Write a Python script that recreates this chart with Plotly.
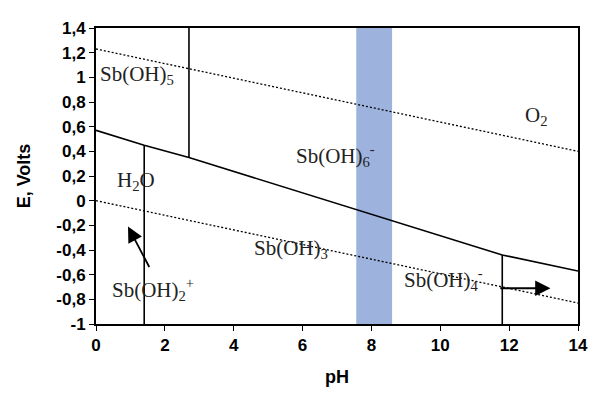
import plotly.graph_objects as go

# Data
ph_range = [0, 14]
e_o2 = [1.23, 0.40]
e_h2 = [0.00, -0.83]
ph_sb = [0, 1.4, 2.7, 11.8, 14]
e_sb = [0.57, 0.45, 0.35, -0.44, -0.57]
vert_ph = [1.4, 2.7, 11.8]
vert_top = [0.45, 1.4, -0.44]
vert_bot = [-1.0, 0.35, -1.0]
band_ph = [7.56, 8.6]

x_tickvals = [0, 2, 4, 6, 8, 10, 12, 14]
y_tickvals = [1.4, 1.2, 1.0, 0.8, 0.6, 0.4, 0.2, 0.0, -0.2, -0.4, -0.6, -0.8, -1.0]
y_ticktext = ["1,4", "1,2", "1", "0,8", "0,6", "0,4", "0,2", "0", "-0,2", "-0,4", "-0,6", "-0,8", "-1"]

labels = ["Sb(OH)<sub>5</sub>", "H<sub>2</sub>O", "Sb(OH)<sub>6</sub><sup>-</sup>", "O<sub>2</sub>",
          "Sb(OH)<sub>3</sub>", "Sb(OH)<sub>2</sub><sup>+</sup>", "Sb(OH)<sub>4</sub><sup>-</sup>"]
label_ph = [1.2, 1.15, 6.95, 12.8, 5.65, 1.65, 10.1]
label_e = [1.02, 0.16, 0.37, 0.69, -0.39, -0.72, -0.64]

arrow_tail_ph = [1.57, 11.7]
arrow_tail_e = [-0.55, -0.71]
arrow_head_ph = [0.93, 13.2]
arrow_head_e = [-0.21, -0.71]

fig = go.Figure()

fig.add_shape(type="rect", xref="x", yref="y", x0=band_ph[0], x1=band_ph[1], y0=-1, y1=1.4,
              fillcolor="rgb(157,179,222)", line=dict(width=0), layer="below")

fig.add_trace(go.Scatter(x=ph_range, y=e_o2, mode="lines",
                         line=dict(color="black", width=1.3, dash="2px,2px")))
fig.add_trace(go.Scatter(x=ph_range, y=e_h2, mode="lines",
                         line=dict(color="black", width=1.3, dash="2px,2px")))
fig.add_trace(go.Scatter(x=ph_sb, y=e_sb, mode="lines", line=dict(color="black", width=1.6)))
for p, t, b in zip(vert_ph, vert_top, vert_bot):
    fig.add_trace(go.Scatter(x=[p, p], y=[t, b], mode="lines", line=dict(color="black", width=1.6)))

for txt, x, y in zip(labels, label_ph, label_e):
    fig.add_annotation(x=x, y=y, text=txt, showarrow=False,
                       font=dict(family="Liberation Serif", size=21, color="#222"))

for tx, ty, hx, hy in zip(arrow_tail_ph, arrow_tail_e, arrow_head_ph, arrow_head_e):
    fig.add_annotation(x=hx, y=hy, ax=tx, ay=ty, xref="x", yref="y", axref="x", ayref="y",
                       text="", showarrow=True, arrowhead=2, arrowsize=1.7, arrowwidth=1.8,
                       arrowcolor="black")

axis_font = dict(family="Liberation Sans", size=17, color="black", weight="bold")
title_font = dict(family="Liberation Sans", size=18, color="black", weight="bold")
fig.update_layout(
    width=607, height=391,
    margin=dict(l=88, r=37, t=20, b=75),
    plot_bgcolor="white", paper_bgcolor="white",
    showlegend=False,
    xaxis=dict(range=[0, 14], tickvals=x_tickvals, ticks="outside", ticklen=5, tickcolor="black",
               showline=True, linecolor="black", linewidth=2, mirror=True, showgrid=False,
               zeroline=False, tickfont=axis_font, automargin=False,
               title=dict(text="pH", font=title_font, standoff=16)),
    yaxis=dict(range=[-1, 1.4], tickvals=y_tickvals, ticktext=y_ticktext, ticks="outside", ticklen=5,
               tickcolor="black",
               showline=True, linecolor="black", linewidth=2, mirror=True, showgrid=False,
               zeroline=False, tickfont=axis_font, automargin=False,
               title=dict(text="E, Volts", font=title_font, standoff=21)),
)

fig.write_html("out.html")
